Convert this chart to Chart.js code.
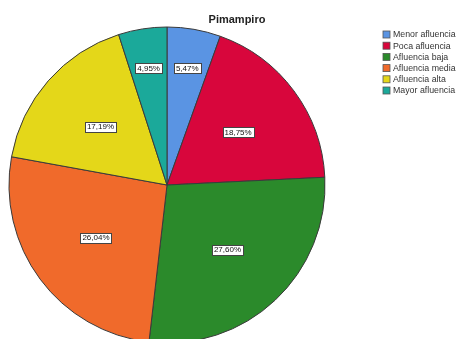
<!DOCTYPE html>
<html>
<head>
<meta charset="utf-8">
<script src="https://cdn.jsdelivr.net/npm/chart.js@4"></script>
<style>
  html, body { margin: 0; padding: 0; background: #fff; overflow: hidden; width: 458px; height: 339px; }
  canvas { display: block; }
</style>
</head>
<body>
<canvas id="graficoPimampiro" width="458" height="370"></canvas>
<script>
// Datos del gráfico
const titulo = 'Pimampiro';
const categorias = ['Menor afluencia', 'Poca afluencia', 'Afluencia baja', 'Afluencia media', 'Afluencia alta', 'Mayor afluencia'];
const porcentajes = [5.47, 18.75, 27.60, 26.04, 17.19, 4.95];
const colores = ['#5a94e3', '#d8063c', '#2b8a2b', '#f06a2b', '#e4d719', '#1ba99a'];

// Título, leyenda y etiquetas de porcentaje
const pluginEtiquetas = {
    id: 'etiquetas',
    afterDraw(chart) {
        const ctx = chart.ctx;
        ctx.save();

        // Título
        ctx.fillStyle = '#222';
        ctx.font = 'bold 11px "Liberation Sans", Arial, sans-serif';
        ctx.textAlign = 'center';
        ctx.textBaseline = 'middle';
        ctx.fillText(titulo, 237, 19.5);

        // Leyenda
        ctx.font = '8.8px "Liberation Sans", Arial, sans-serif';
        ctx.textAlign = 'left';
        chart.data.labels.forEach((label, i) => {
            const y = 34.5 + i * 11.2;
            ctx.fillStyle = chart.data.datasets[0].backgroundColor[i];
            ctx.fillRect(383, y - 3.5, 7, 7);
            ctx.strokeStyle = '#555';
            ctx.lineWidth = 0.8;
            ctx.strokeRect(383, y - 3.5, 7, 7);
            ctx.fillStyle = '#333';
            ctx.fillText(label, 393, y + 0.5);
        });

        // Etiquetas dentro de las porciones
        const meta = chart.getDatasetMeta(0);
        ctx.font = '8px "Liberation Sans", Arial, sans-serif';
        ctx.textAlign = 'center';
        meta.data.forEach((arc, i) => {
            const valor = chart.data.datasets[0].data[i];
            const medio = (arc.startAngle + arc.endAngle) / 2;
            const factor = valor < 10 ? 0.75 : 0.56;
            const x = arc.x + Math.cos(medio) * arc.outerRadius * factor;
            const y = arc.y + Math.sin(medio) * arc.outerRadius * factor;
            const texto = valor.toFixed(2).replace('.', ',') + '%';
            const ancho = ctx.measureText(texto).width + 4;
            ctx.fillStyle = '#fff';
            ctx.fillRect(Math.round(x - ancho / 2) + 0.5, Math.round(y - 5) + 0.5, Math.round(ancho), 10);
            ctx.strokeStyle = '#444';
            ctx.lineWidth = 1;
            ctx.strokeRect(Math.round(x - ancho / 2) + 0.5, Math.round(y - 5) + 0.5, Math.round(ancho), 10);
            ctx.fillStyle = '#111';
            ctx.fillText(texto, x, y + 0.5);
        });

        ctx.restore();
    }
};

const ctxPie = document.getElementById('graficoPimampiro').getContext('2d');
new Chart(ctxPie, {
    type: 'pie',
    data: {
        labels: categorias,
        datasets: [{
            data: porcentajes,
            backgroundColor: colores,
            borderColor: '#3a3a3a',
            borderWidth: 1,
        }],
    },
    options: {
        responsive: false,
        animation: false,
        radius: 158,
        layout: { padding: { left: 0, right: 124, top: 0, bottom: 0 } },
        plugins: {
            legend: { display: false },
            title: { display: false },
            tooltip: { enabled: false },
        },
    },
    plugins: [pluginEtiquetas],
});
</script>
</body>
</html>
